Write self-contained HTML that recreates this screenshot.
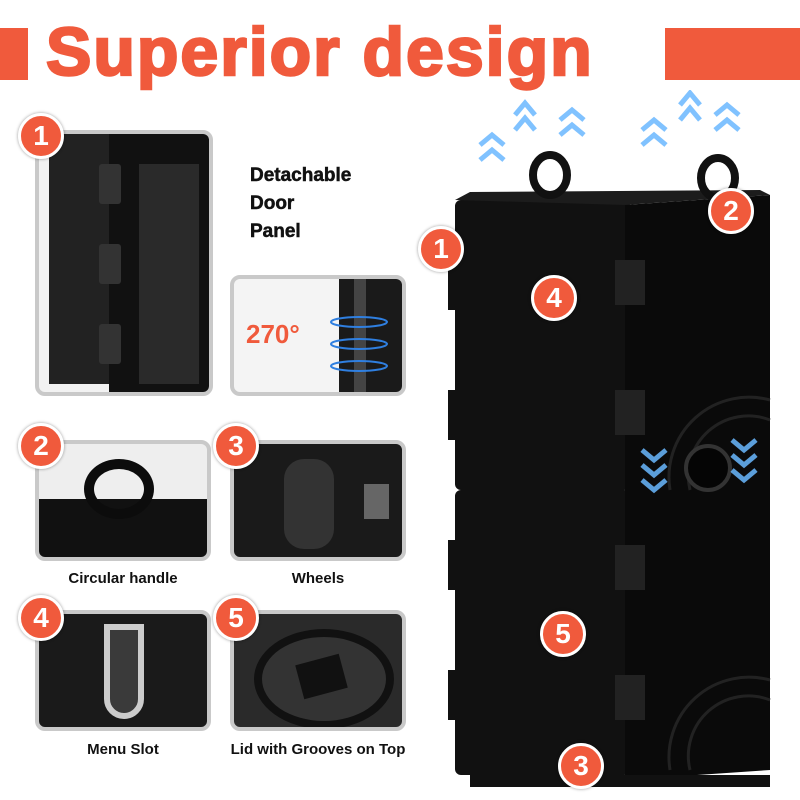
<!DOCTYPE html>
<html><head><meta charset="utf-8"><style>
body{margin:0;width:800px;height:800px;background:#fff;position:relative;overflow:hidden;font-family:"Liberation Sans",sans-serif}
.abs{position:absolute}
.panel{position:absolute;border:4px solid #c9c9c9;border-radius:10px;background:#1a1a1a;overflow:hidden;box-sizing:border-box}
.badge{position:absolute;width:40px;height:40px;border-radius:50%;background:#f05a3c;border:3px solid #fff;color:#fff;font-weight:bold;font-size:28px;text-align:center;line-height:40px;box-shadow:0 0 3px rgba(0,0,0,.4)}
.lbl{position:absolute;font-weight:bold;font-size:15px;color:#111;text-align:center}
</style></head><body>
<div class="abs" style="left:0;top:28px;width:28px;height:52px;background:#f05a3c"></div>
<div class="abs" style="left:665px;top:28px;width:135px;height:52px;background:#f05a3c"></div>
<div class="abs" style="left:46px;top:13px;font-size:68px;font-weight:bold;color:#f05a3c;letter-spacing:2px;-webkit-text-stroke:2.5px #f05a3c;white-space:nowrap">Superior design</div>

<div class="panel" style="left:35px;top:130px;width:178px;height:266px;background:#f2f2f2">
 <div class="abs" style="left:10px;top:0;width:60px;height:250px;background:#222"></div>
 <div class="abs" style="left:70px;top:0;width:110px;height:260px;background:#111"></div>
 <div class="abs" style="left:100px;top:30px;width:60px;height:220px;background:#2a2a2a"></div>
 <div class="abs" style="left:60px;top:30px;width:22px;height:40px;background:#333;border-radius:3px"></div>
 <div class="abs" style="left:60px;top:110px;width:22px;height:40px;background:#333;border-radius:3px"></div>
 <div class="abs" style="left:60px;top:190px;width:22px;height:40px;background:#333;border-radius:3px"></div>
</div>
<div class="badge" style="left:18px;top:113px">1</div>
<div class="abs" style="left:250px;top:162px;font-size:19px;font-weight:bold;line-height:28px;color:#111;-webkit-text-stroke:0.5px #111">Detachable<br>Door<br>Panel</div>

<div class="panel" style="left:230px;top:275px;width:176px;height:121px;background:#f4f4f4">
 <div class="abs" style="left:105px;top:0;width:70px;height:120px;background:#1a1a1a"></div>
 <div class="abs" style="left:120px;top:0;width:12px;height:120px;background:#444"></div>
 <div class="abs" style="left:12px;top:40px;font-size:26px;font-weight:bold;color:#f05a3c">270°</div>
 <svg class="abs" style="left:90px;top:25px" width="80" height="80"><g fill="none" stroke="#2f7fe0" stroke-width="2"><ellipse cx="35" cy="18" rx="28" ry="5"/><ellipse cx="35" cy="40" rx="28" ry="5"/><ellipse cx="35" cy="62" rx="28" ry="5"/></g></svg>
</div>

<div class="panel" style="left:35px;top:440px;width:176px;height:121px;background:#eee">
 <div class="abs" style="left:0;top:55px;width:176px;height:70px;background:#111"></div>
 <div class="abs" style="left:45px;top:15px;width:70px;height:60px;border:10px solid #0c0c0c;border-radius:50%;box-sizing:border-box"></div>
</div>
<div class="badge" style="left:18px;top:423px">2</div>
<div class="lbl" style="left:35px;top:570px;width:176px">Circular handle</div>

<div class="panel" style="left:230px;top:440px;width:176px;height:121px">
 <div class="abs" style="left:50px;top:15px;width:50px;height:90px;background:#333;border-radius:20px"></div>
 <div class="abs" style="left:130px;top:40px;width:25px;height:35px;background:#666"></div>
</div>
<div class="badge" style="left:213px;top:423px">3</div>
<div class="lbl" style="left:230px;top:570px;width:176px">Wheels</div>

<div class="panel" style="left:35px;top:610px;width:176px;height:121px">
 <div class="abs" style="left:65px;top:10px;width:40px;height:95px;border:6px solid #ccc;border-radius:0 0 22px 22px;box-sizing:border-box;background:#3a3a3a"></div>
</div>
<div class="badge" style="left:18px;top:595px">4</div>
<div class="lbl" style="left:35px;top:741px;width:176px">Menu Slot</div>

<div class="panel" style="left:230px;top:610px;width:176px;height:121px;background:#2a2a2a">
 <div class="abs" style="left:20px;top:15px;width:140px;height:100px;border:8px solid #111;border-radius:50%;box-sizing:border-box;background:#333"></div>
 <div class="abs" style="left:65px;top:45px;width:45px;height:35px;background:#111;transform:rotate(-15deg)"></div>
</div>
<div class="badge" style="left:213px;top:595px">5</div>
<div class="lbl" style="left:206px;top:741px;width:224px">Lid with Grooves on Top</div>

<svg class="abs" style="left:430px;top:90px" width="370" height="710">
 <g fill="#111">
  <rect x="25" y="110" width="175" height="290" rx="6"/>
  <rect x="25" y="400" width="175" height="285" rx="6"/>
  <path d="M195 115 L340 105 L340 395 L195 405Z" fill="#0a0a0a"/>
  <path d="M195 400 L340 392 L340 680 L195 690Z" fill="#0a0a0a"/>
  <rect x="18" y="170" width="12" height="50"/><rect x="18" y="300" width="12" height="50"/>
  <rect x="18" y="450" width="12" height="50"/><rect x="18" y="580" width="12" height="50"/>
  <rect x="40" y="685" width="300" height="12"/>
 </g>
 <path d="M25 110 L195 115 L340 105 L330 100 L40 102Z" fill="#1c1c1c"/>
 <g fill="none" stroke="#222" stroke-width="3">
  <path d="M240 400 A80 80 0 0 1 340 310"/><path d="M260 400 A60 60 0 0 1 340 330"/>
  <path d="M240 680 A80 80 0 0 1 340 590"/><path d="M260 680 A60 60 0 0 1 340 610"/>
 </g>
 <circle cx="278" cy="378" r="22" fill="#050505" stroke="#333" stroke-width="4"/>
 <g fill="none" stroke="#111" stroke-width="8">
  <ellipse cx="120" cy="85" rx="17" ry="20"/><ellipse cx="288" cy="88" rx="17" ry="20"/>
 </g>
 <g fill="#222"><rect x="185" y="170" width="30" height="45"/><rect x="185" y="300" width="30" height="45"/><rect x="185" y="455" width="30" height="45"/><rect x="185" y="585" width="30" height="45"/></g>
 <g fill="none" stroke="#6ab8ff" stroke-width="5" opacity=".85">
  <path d="M50 70 l12 -10 l12 10"/><path d="M50 55 l12 -10 l12 10"/><path d="M85 40 l10 -12 l10 12"/><path d="M85 25 l10 -12 l10 12"/><path d="M130 45 l12 -10 l12 10"/><path d="M130 30 l12 -10 l12 10"/>
  <path d="M212 55 l12 -10 l12 10"/><path d="M212 40 l12 -10 l12 10"/><path d="M250 30 l10 -12 l10 12"/><path d="M250 15 l10 -12 l10 12"/><path d="M285 40 l12 -10 l12 10"/><path d="M285 25 l12 -10 l12 10"/>
  <path d="M212 360 l12 10 l12 -10"/><path d="M212 375 l12 10 l12 -10"/><path d="M212 390 l12 10 l12 -10"/>
  <path d="M302 350 l12 10 l12 -10"/><path d="M302 365 l12 10 l12 -10"/><path d="M302 380 l12 10 l12 -10"/>
 </g>
</svg>
<div class="badge" style="left:418px;top:226px">1</div>
<div class="badge" style="left:708px;top:188px">2</div>
<div class="badge" style="left:531px;top:275px">4</div>
<div class="badge" style="left:540px;top:611px">5</div>
<div class="badge" style="left:558px;top:743px">3</div>
</body></html>
